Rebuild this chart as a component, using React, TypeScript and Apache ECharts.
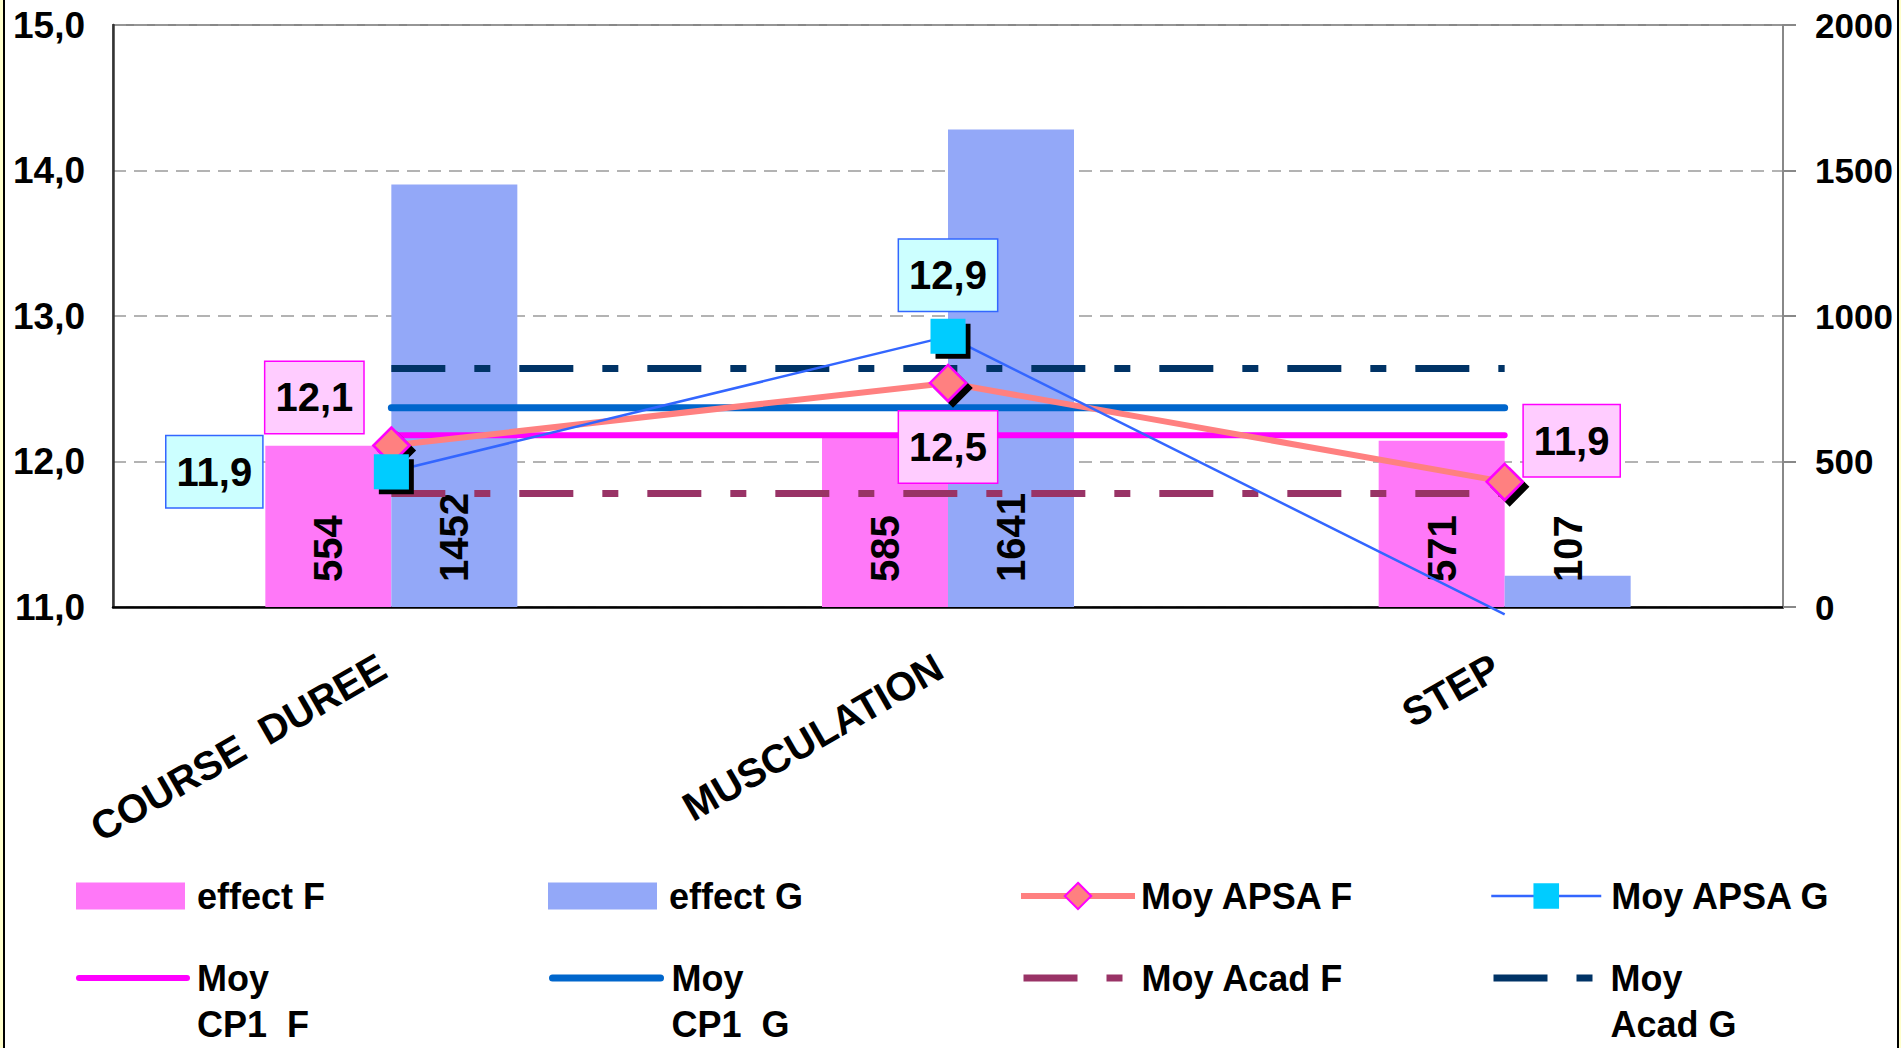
import React, { useEffect, useRef } from 'react';
import * as echarts from 'echarts';

// ---------- data ----------
const categories = ['COURSE  DUREE', 'MUSCULATION', 'STEP'];
const effectF = [554, 585, 571];
const effectG = [1452, 1641, 107];
const moyApsaF = [12.11, 12.54, 11.86];
const moyApsaG = [11.93, 12.86, 10.95];
const moyCp1F = [12.18, 12.18, 12.18];
const moyCp1G = [12.37, 12.37, 12.37];
const moyAcadF = [11.78, 11.78, 11.78];
const moyAcadG = [12.64, 12.64, 12.64];
const leftAxisMin = 11;
const leftAxisMax = 15;
const leftAxisStep = 1;
const rightAxisMin = 0;
const rightAxisMax = 2000;
const rightAxisStep = 500;

// ---------- styles ----------
const FONT = '"Liberation Sans", Arial, sans-serif';
const PINK = '#FF78F8';
const BLUE = '#93A8F8';
const LH = 46;
const ACAD_DASH = [54, 29, 16, 29];

const apsaFLabelOffsets = [[-77, -48], [0, 64], [67, -41]];
const apsaGLabelOffsets = [[-177, 0], [0, -61], [0, 0]];

const legendLayout: any[] = [
  { name: 'effect F', left: 76, cy: 896, w: 109, h: 27, textX: 197, icon: 'rect' },
  { name: 'effect G', left: 548, cy: 896, w: 109, h: 27, textX: 669, icon: 'rect' },
  { name: 'Moy APSA F', left: 1018, cy: 896, w: 114, h: 33, textX: 1138, lw: 6 },
  { name: 'Moy APSA G', left: 1490, cy: 896, w: 110, h: 32, textX: 1610, lw: 2.5 },
  { name: 'Moy CP1  F', left: 76, cy: 978, w: 108, h: 14, textX: 194, wrap: true, hide: true, lw: 6, cap: 'round' },
  { name: 'Moy CP1  G', left: 549, cy: 978, w: 108, h: 14, textX: 668, wrap: true, hide: true, lw: 7, cap: 'round' },
  { name: 'Moy Acad F', left: 1020, cy: 978, w: 101, h: 14, textX: 1138, hide: true, lw: 7, dash: ACAD_DASH },
  { name: 'Moy Acad G', left: 1490, cy: 978, w: 100, h: 14, textX: 1607, wrap: true, hide: true, lw: 7, dash: ACAD_DASH },
];

const fmtComma = (v: number) => v.toFixed(1).replace('.', ',');

function buildOption() {
  const barLabel = {
    show: true,
    position: 'insideBottom',
    rotate: 90,
    align: 'left',
    verticalAlign: 'middle',
    distance: 25,
    fontFamily: FONT,
    fontSize: 40,
    fontWeight: 'bold',
    color: '#000',
  };
  const boxLabel = (bg: string, border: string) => ({
    show: true,
    position: 'inside',
    formatter: (p: any) => fmtComma(Number(p.value)),
    fontFamily: FONT,
    fontSize: 40,
    fontWeight: 'bold',
    color: '#000',
    lineHeight: 42,
    backgroundColor: bg,
    borderColor: border,
    borderWidth: 1.5,
    padding: [15, 10, 14, 10],
  });
  const flat = (name: string, data: number[], color: string, width: number, type: any, cap: string) => ({
    name,
    type: 'line',
    data,
    symbol: 'none',
    z: 3,
    itemStyle: { color },
    lineStyle: { color, width, type, cap },
  });

  const legends = legendLayout.map((l) => {
    const lg: any = {
      show: true,
      left: l.left,
      top: l.wrap ? l.cy - 1.5 * LH : l.cy - LH / 2,
      padding: 0,
      itemGap: 0,
      itemWidth: l.w,
      itemHeight: l.h,
      selectedMode: false,
      data: [l.icon ? { name: l.name, icon: l.icon } : l.name],
      formatter: (n: string) => (l.wrap ? '\n' + n.replace(' ', '\n') : n),
      textStyle: {
        fontFamily: FONT,
        fontSize: 36,
        fontWeight: 'bold',
        color: '#000',
        lineHeight: LH,
        padding: [0, 0, 0, Math.max(0, l.textX - l.left - l.w - 5)],
      },
    };
    if (l.hide) lg.itemStyle = { opacity: 0 };
    else lg.itemStyle = { shadowBlur: 0, shadowOffsetX: 0, shadowOffsetY: 0, shadowColor: 'rgba(0,0,0,0)' };
    if (l.lw) {
      lg.lineStyle = { width: l.lw, cap: l.cap || 'butt' };
      if (l.dash) lg.lineStyle.type = l.dash;
    }
    return lg;
  });

  return {
    animation: false,
    backgroundColor: '#ffffff',
    grid: {
      left: 113,
      right: 118,
      top: 25,
      bottom: 441,
      show: true,
      borderColor: '#888',
      borderWidth: 2,
      backgroundColor: 'transparent',
      outerBoundsMode: 'none',
    },
    legend: legends,
    xAxis: {
      type: 'category',
      data: categories,
      boundaryGap: true,
      axisLine: { lineStyle: { color: '#000', width: 2.5 } },
      axisTick: { show: false },
      axisLabel: {
        interval: 0,
        rotate: 30,
        margin: 52,
        padding: [0, 10, 0, 0],
        fontFamily: FONT,
        fontSize: 40,
        fontWeight: 'bold',
        color: '#000',
      },
      splitLine: { show: false },
    },
    yAxis: [
      {
        type: 'value',
        min: leftAxisMin,
        max: leftAxisMax,
        interval: leftAxisStep,
        position: 'left',
        axisLine: { show: true, lineStyle: { color: '#333', width: 2.5 } },
        axisTick: { show: false },
        axisLabel: {
          margin: 28,
          formatter: (v: number) => fmtComma(v),
          fontFamily: FONT,
          fontSize: 37,
          fontWeight: 'bold',
          color: '#000',
        },
        splitLine: { show: true, lineStyle: { color: '#9a9a9a', type: [13, 8], width: 1.5 } },
      },
      {
        type: 'value',
        min: rightAxisMin,
        max: rightAxisMax,
        interval: rightAxisStep,
        position: 'right',
        axisLine: { show: true, lineStyle: { color: '#888', width: 2 } },
        axisTick: { show: true, length: 13, lineStyle: { color: '#888', width: 2 } },
        axisLabel: {
          margin: 32,
          formatter: (v: number) => String(v),
          fontFamily: FONT,
          fontSize: 35,
          fontWeight: 'bold',
          color: '#000',
        },
        splitLine: { show: false },
      },
    ],
    series: [
      {
        name: 'effect F',
        type: 'bar',
        yAxisIndex: 1,
        data: effectF,
        barWidth: 126,
        barGap: '0%',
        z: 1,
        itemStyle: { color: PINK },
        label: barLabel,
      },
      {
        name: 'effect G',
        type: 'bar',
        yAxisIndex: 1,
        data: effectG,
        barWidth: 126,
        barGap: '0%',
        z: 1,
        itemStyle: { color: BLUE },
        label: barLabel,
      },
      flat('Moy CP1  F', moyCp1F, '#FF00FF', 6, 'solid', 'round'),
      flat('Moy CP1  G', moyCp1G, '#0066CC', 7, 'solid', 'round'),
      flat('Moy Acad F', moyAcadF, '#993366', 7, ACAD_DASH, 'butt'),
      flat('Moy Acad G', moyAcadG, '#003366', 7, ACAD_DASH, 'butt'),
      {
        name: 'Moy APSA F',
        type: 'line',
        z: 5,
        data: moyApsaF.map((v, i) => ({ value: v, label: { offset: apsaFLabelOffsets[i] } })),
        symbol: 'diamond',
        symbolSize: 36,
        lineStyle: { color: '#FF8080', width: 6 },
        itemStyle: {
          color: '#FF8080',
          borderColor: '#FF00FF',
          borderWidth: 2.5,
          shadowColor: '#000',
          shadowOffsetX: 5,
          shadowOffsetY: 5,
          shadowBlur: 0,
        },
        label: boxLabel('#FFCCFF', '#FF00FF'),
      },
      {
        name: 'Moy APSA G',
        type: 'line',
        z: 6,
        clip: false,
        data: moyApsaG.map((v, i) =>
          v < leftAxisMin
            ? { value: v, symbol: 'none', label: { show: false } }
            : { value: v, label: { offset: apsaGLabelOffsets[i] } }
        ),
        symbol: 'rect',
        symbolSize: 35,
        lineStyle: { color: '#3366FF', width: 2.5 },
        itemStyle: {
          color: '#00CCFF',
          borderWidth: 0,
          shadowColor: '#000',
          shadowOffsetX: 5,
          shadowOffsetY: 5,
          shadowBlur: 0,
        },
        label: boxLabel('#CCFFFF', '#3366FF'),
      },
    ],
    graphic: [
      { type: 'rect', left: 0, top: 0, shape: { width: 3, height: 1048 }, style: { fill: '#FFFFCC' }, silent: true },
      { type: 'rect', left: 3, top: 0, shape: { width: 2, height: 1048 }, style: { fill: '#000' }, silent: true },
      { type: 'rect', left: 1897, top: 0, shape: { width: 2, height: 1048 }, style: { fill: '#000' }, silent: true },
      { type: 'rect', left: 1899, top: 0, shape: { width: 2, height: 1048 }, style: { fill: '#FFFFCC' }, silent: true },
    ],
  };
}

export default function App() {
  const ref = useRef<HTMLDivElement>(null);
  useEffect(() => {
    if (!ref.current) return;
    const chart = echarts.init(ref.current, undefined, { renderer: 'svg' });
    chart.setOption(buildOption() as any);
    return () => chart.dispose();
  }, []);
  return (
    <div
      ref={ref}
      style={{ position: 'absolute', left: 0, top: 0, width: 1901, height: 1048, background: '#fff' }}
    />
  );
}
